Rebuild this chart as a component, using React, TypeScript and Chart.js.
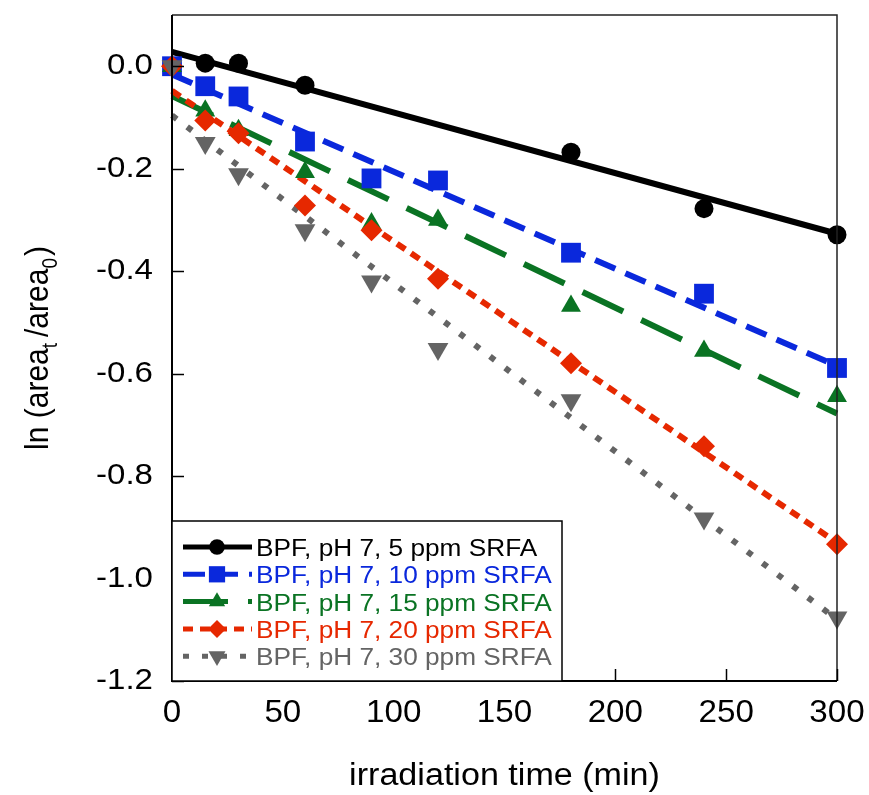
import React, { useEffect, useRef } from 'react';
import { Chart, registerables } from 'chart.js';

Chart.register(...registerables);

// ---------- data ----------
const times = [0, 15, 30, 60, 90, 120, 180, 240, 300];
const seriesLabels = [
  'BPF, pH 7, 5 ppm SRFA',
  'BPF, pH 7, 10 ppm SRFA',
  'BPF, pH 7, 15 ppm SRFA',
  'BPF, pH 7, 20 ppm SRFA',
  'BPF, pH 7, 30 ppm SRFA',
];
const ppm5 = [0, 0.006, 0.006, -0.037, null, null, -0.168, -0.278, -0.329];
const ppm10 = [0, -0.039, -0.059, -0.147, -0.219, -0.223, -0.364, -0.444, -0.589];
const ppm15 = [0, -0.087, -0.125, -0.207, -0.307, -0.3, -0.468, -0.556, -0.644];
const ppm20 = [0, -0.106, -0.131, -0.272, -0.32, -0.415, -0.58, -0.742, -0.933];
const ppm30 = [0, -0.15, -0.211, -0.32, -0.42, -0.552, -0.652, -0.883, -1.076];
// linear fit lines: value at t = 0 and t = 300 min
const fitStart = [0.028, -0.016, -0.058, -0.048, -0.096];
const fitEnd = [-0.327, -0.585, -0.678, -0.93, -1.08];
const xTicks = [0, 50, 100, 150, 200, 250, 300];
const yTicks = [0, -0.2, -0.4, -0.6, -0.8, -1.0, -1.2];

// ---------- styles ----------
const allValues = [ppm5, ppm10, ppm15, ppm20, ppm30];
const colors = ['#000000', '#0a28dc', '#0a7323', '#e62800', '#646464'];
const dashes: number[][] = [[], [22, 11], [45, 20], [10, 7], [6, 13]];
const pointStyles = ['circle', 'rect', 'triangle', 'rectRot', 'triangle'];
const pointRadii = [9.5, 14, 11.5, 11, 12];
const pointRotations = [0, 0, 0, 0, 180];
const FONT = '"Liberation Sans", Arial, Helvetica, sans-serif';

function drawText(ctx: CanvasRenderingContext2D, text: string, x: number, y: number, size: number, color: string, align: CanvasTextAlign, sx = 1) {
  ctx.save();
  ctx.translate(x, y);
  ctx.scale(sx, 1);
  ctx.font = `${size}px ${FONT}`;
  ctx.fillStyle = color;
  ctx.textAlign = align;
  ctx.textBaseline = 'alphabetic';
  ctx.fillText(text, 0, 0);
  ctx.restore();
}

function drawMarker(ctx: CanvasRenderingContext2D, style: string, x: number, y: number, r: number, rot: number, color: string) {
  ctx.save();
  ctx.fillStyle = color;
  ctx.beginPath();
  const rad = (rot * Math.PI) / 180;
  if (style === 'circle') {
    ctx.arc(x, y, r, 0, Math.PI * 2);
  } else if (style === 'rect') {
    const s = Math.SQRT1_2 * r;
    ctx.rect(x - s, y - s, 2 * s, 2 * s);
  } else if (style === 'triangle') {
    let a = rad;
    ctx.moveTo(x + Math.sin(a) * r, y - Math.cos(a) * r);
    a += (2 * Math.PI) / 3;
    ctx.lineTo(x + Math.sin(a) * r, y - Math.cos(a) * r);
    a += (2 * Math.PI) / 3;
    ctx.lineTo(x + Math.sin(a) * r, y - Math.cos(a) * r);
  } else if (style === 'rectRot') {
    ctx.moveTo(x - r, y);
    ctx.lineTo(x, y - r);
    ctx.lineTo(x + r, y);
    ctx.lineTo(x, y + r);
  }
  ctx.closePath();
  ctx.fill();
  ctx.restore();
}

const decorPlugin = {
  id: 'decor',
  afterDraw(chart: any) {
    const ctx: CanvasRenderingContext2D = chart.ctx;
    const { left, right, top, bottom } = chart.chartArea;
    const xs = chart.scales.x;
    const ys = chart.scales.y;

    // frame
    ctx.save();
    ctx.strokeStyle = '#222';
    ctx.lineWidth = 1.5;
    ctx.beginPath();
    ctx.moveTo(left, top);
    ctx.lineTo(right, top);
    ctx.lineTo(right, bottom);
    ctx.stroke();
    ctx.strokeStyle = '#000';
    ctx.lineWidth = 2;
    ctx.beginPath();
    ctx.moveTo(left, top);
    ctx.lineTo(left, bottom);
    ctx.lineTo(right, bottom);
    ctx.stroke();

    // inner ticks
    ctx.lineWidth = 1.5;
    yTicks.forEach((v) => {
      const py = Math.round(ys.getPixelForValue(v)) + 0.5;
      ctx.beginPath();
      ctx.moveTo(left, py);
      ctx.lineTo(left + 12, py);
      ctx.stroke();
    });
    xTicks.forEach((v) => {
      const px = Math.round(xs.getPixelForValue(v)) + 0.5;
      ctx.beginPath();
      ctx.moveTo(px, bottom);
      ctx.lineTo(px, bottom - 12);
      ctx.stroke();
    });
    ctx.restore();

    // tick labels
    yTicks.forEach((v) => {
      const py = ys.getPixelForValue(v);
      drawText(ctx, v.toFixed(1), left - 19, py + 8, 29.5, '#000', 'right', 1.12);
    });
    xTicks.forEach((v) => {
      const px = xs.getPixelForValue(v);
      drawText(ctx, String(v), px, 722, 31, '#000', 'center', 1.07);
    });

    // x title
    drawText(ctx, 'irradiation time (min)', (left + right) / 2, 785, 31, '#000', 'center', 1.1);

    // y title with subscripts
    ctx.save();
    const cy = (top + bottom) / 2;
    ctx.translate(48, cy);
    ctx.scale(1.12, 1);
    ctx.rotate(-Math.PI / 2);
    const big = `30px ${FONT}`;
    const small = `19px ${FONT}`;
    const parts: [string, boolean, number][] = [
      ['ln (area', false, 0],
      ['t', true, 6],
      ['/area', false, 0],
      ['0', true, 2],
      [')', false, 0],
    ];
    let total = 0;
    parts.forEach(([t, sub, gap]) => {
      ctx.font = sub ? small : big;
      total += ctx.measureText(t).width + gap;
    });
    let cx = -total / 2;
    ctx.fillStyle = '#000';
    ctx.textBaseline = 'alphabetic';
    ctx.textAlign = 'left';
    parts.forEach(([t, sub, gap]) => {
      ctx.font = sub ? small : big;
      ctx.fillText(t, cx, sub ? 8 : 0);
      cx += ctx.measureText(t).width + gap;
    });
    ctx.restore();

    // legend
    const bx0 = left, bx1 = 562, by0 = 521, by1 = bottom;
    ctx.save();
    ctx.fillStyle = '#fff';
    ctx.fillRect(bx0, by0, bx1 - bx0, by1 - by0);
    ctx.strokeStyle = '#000';
    ctx.lineWidth = 1.5;
    ctx.strokeRect(bx0, by0, bx1 - bx0, by1 - by0);
    ctx.restore();
    seriesLabels.forEach((lab, i) => {
      const base = 556 + i * 27.3;
      const my = base - 9;
      ctx.save();
      ctx.strokeStyle = colors[i];
      ctx.lineWidth = 5;
      ctx.setLineDash(dashes[i]);
      ctx.beginPath();
      ctx.moveTo(183, my);
      ctx.lineTo(252, my);
      ctx.stroke();
      ctx.restore();
      drawMarker(ctx, pointStyles[i], 217, my, pointRadii[i] * 0.82, pointRotations[i], colors[i]);
      drawText(ctx, lab, 256, base, 24.5, colors[i], 'left', 1.07);
    });
  },
};

export default function App() {
  const ref = useRef<HTMLCanvasElement | null>(null);
  useEffect(() => {
    if (!ref.current) return;
    const datasets: any[] = [];
    allValues.forEach((vals, i) => {
      datasets.push({
        type: 'line',
        label: seriesLabels[i] + ' fit',
        data: [
          { x: 0, y: fitStart[i] },
          { x: 300, y: fitEnd[i] },
        ],
        borderColor: colors[i],
        borderWidth: 6,
        borderDash: dashes[i],
        pointRadius: 0,
        fill: false,
        order: 10 + (4 - i),
        clip: false,
      });
    });
    allValues.forEach((vals, i) => {
      const pts = times
        .map((t, j) => (vals[j] === null ? null : { x: t, y: vals[j] as number }))
        .filter((p) => p !== null);
      datasets.push({
        type: 'scatter',
        label: seriesLabels[i],
        data: pts,
        showLine: false,
        pointStyle: pointStyles[i],
        pointRadius: pointRadii[i],
        pointRotation: pointRotations[i],
        pointBackgroundColor: colors[i],
        pointBorderColor: colors[i],
        pointBorderWidth: 0,
        order: 4 - i,
        clip: false,
      });
    });
    const chart = new Chart(ref.current, {
      type: 'scatter',
      data: { datasets },
      options: {
        animation: false,
        responsive: false,
        layout: { padding: { top: 15, right: 32, left: 0, bottom: 0 } },
        plugins: { legend: { display: false }, tooltip: { enabled: false } },
        scales: {
          x: {
            type: 'linear',
            min: 0,
            max: 300,
            grid: { display: false },
            border: { display: false },
            ticks: { display: false, stepSize: 50 },
            afterFit: (s: any) => {
              s.height = 114;
            },
          },
          y: {
            type: 'linear',
            min: -1.2,
            max: 0.1,
            grid: { display: false },
            border: { display: false },
            ticks: { display: false, stepSize: 0.2 },
            afterFit: (s: any) => {
              s.width = 172;
            },
          },
        },
      } as any,
      plugins: [decorPlugin],
    });
    return () => chart.destroy();
  }, []);
  return (
    <div style={{ position: 'fixed', left: 0, top: 0, width: 869, height: 795, background: '#fff' }}>
      <canvas ref={ref} width={869} height={795} style={{ display: 'block' }} />
    </div>
  );
}
